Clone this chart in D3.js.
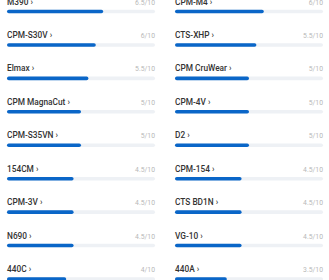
<!DOCTYPE html>
<html><head><meta charset="utf-8">
<script src="https://cdn.jsdelivr.net/npm/d3@7"></script>
<style>html,body{margin:0;padding:0;background:#fff;overflow:hidden}</style>
</head><body>
<svg id="c" width="329" height="280"></svg>
<script>
const leftNames = ["M390","CPM-S30V","Elmax","CPM MagnaCut","CPM-S35VN","154CM","CPM-3V","N690","440C"];
const leftValues = [6.5,6,5.5,5,5,4.5,4.5,4.5,4];
const rightNames = ["CPM-M4","CTS-XHP","CPM CruWear","CPM-4V","D2","CPM-154","CTS BD1N","VG-10","440A"];
const rightValues = [6,5.5,5,5,5,4.5,4.5,4.5,3.5];
const maxScore = 10;

const svg = d3.select("#c");
const y = d3.scaleLinear().domain([0, 8]).range([11.5, 279]);
const cols = [
  {names: leftNames, values: leftValues, x0: 7},
  {names: rightNames, values: rightValues, x0: 175}
];
const colW = 148, barH = 3.6;
cols.forEach(col => {
  const x = d3.scaleLinear().domain([0, maxScore]).range([col.x0, col.x0 + colW]);
  const data = col.names.map((n, i) => ({name: n, value: col.values[i], i}));
  const g = svg.append("g");
  g.selectAll("rect.track").data(data).join("rect")
    .attr("x", x(0)).attr("y", d => y(d.i) - barH/2)
    .attr("width", x(maxScore) - x(0)).attr("height", barH)
    .attr("rx", barH/2).attr("fill", "#eef1f5");
  g.selectAll("rect.bar").data(data).join("rect")
    .attr("x", x(0)).attr("y", d => y(d.i) - barH/2)
    .attr("width", d => x(d.value) - x(0)).attr("height", barH)
    .attr("rx", barH/2).attr("fill", "#0a66c8");
  g.selectAll("text.lab").data(data).join("text")
    .attr("x", x(0)).attr("y", d => y(d.i) - 7)
    .attr("font-family", "Roboto, 'Noto Sans', sans-serif")
    .attr("font-size", 8.3).attr("font-weight", 500).attr("fill", "#333")
    .text(d => d.name + " ›");
  g.selectAll("text.val").data(data).join("text")
    .attr("x", x(maxScore)).attr("y", d => y(d.i) - 7)
    .attr("text-anchor", "end")
    .attr("font-family", "Roboto, 'Noto Sans', sans-serif")
    .attr("font-size", 6.8).attr("fill", "#b8b8b8")
    .text(d => d.value + "/" + maxScore);
});
</script>
</body></html>
